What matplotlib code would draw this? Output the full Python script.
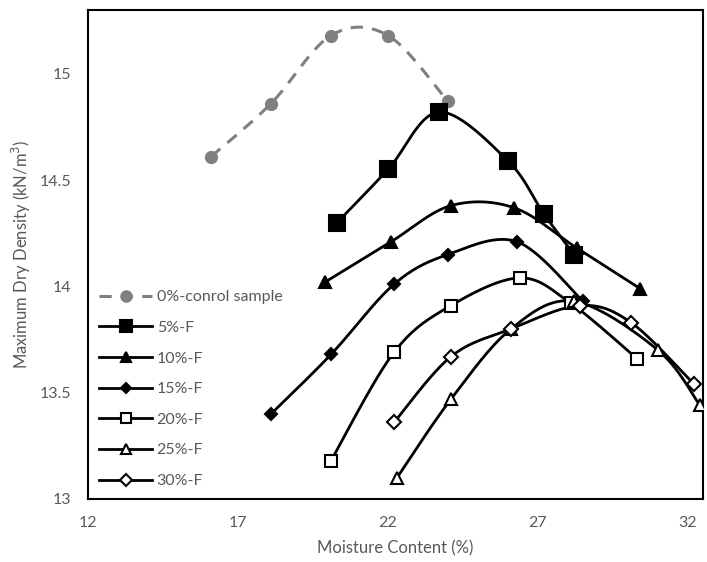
import numpy as np
import matplotlib.pyplot as plt

plt.rcParams['font.family'] = ['Lato', 'DejaVu Sans']

# moisture content (%) and max dry density (kN/m3)
x_ctrl = [16.1, 18.1, 20.1, 22.0, 24.0]
y_ctrl = [14.61, 14.86, 15.18, 15.18, 14.87]

x_5 = [20.3, 22.0, 23.7, 26.0, 27.2, 28.2]
y_5 = [14.30, 14.55, 14.82, 14.59, 14.34, 14.15]

x_10 = [19.9, 22.1, 24.1, 26.2, 28.3, 30.4]
y_10 = [14.02, 14.21, 14.38, 14.37, 14.18, 13.99]

x_15 = [18.1, 20.1, 22.2, 24.0, 26.3, 28.5]
y_15 = [13.40, 13.68, 14.01, 14.15, 14.21, 13.93]

x_20 = [20.1, 22.2, 24.1, 26.4, 28.1, 30.3]
y_20 = [13.18, 13.69, 13.91, 14.04, 13.92, 13.66]

x_25 = [22.3, 24.1, 26.1, 28.2, 31.0, 32.4]
y_25 = [13.10, 13.47, 13.80, 13.93, 13.70, 13.44]

x_30 = [22.2, 24.1, 26.1, 28.4, 30.1, 32.2]
y_30 = [13.36, 13.67, 13.80, 13.91, 13.83, 13.54]


def smooth(xs, ys, n=30):
    # excel-like smoothed line: cubic bezier through the points
    xs = np.asarray(xs, float)
    ys = np.asarray(ys, float)
    px, py = [], []
    for i in range(len(xs) - 1):
        x0, y0 = (xs[i - 1], ys[i - 1]) if i > 0 else (xs[i], ys[i])
        x3, y3 = (xs[i + 2], ys[i + 2]) if i + 2 < len(xs) else (xs[i + 1], ys[i + 1])
        c1x = xs[i] + (xs[i + 1] - x0) / 6
        c1y = ys[i] + (ys[i + 1] - y0) / 6
        c2x = xs[i + 1] - (x3 - xs[i]) / 6
        c2y = ys[i + 1] - (y3 - ys[i]) / 6
        t = np.linspace(0, 1, n)
        a, b, c, d = (1 - t) ** 3, 3 * t * (1 - t) ** 2, 3 * t ** 2 * (1 - t), t ** 3
        px.extend(a * xs[i] + b * c1x + c * c2x + d * xs[i + 1])
        py.extend(a * ys[i] + b * c1y + c * c2y + d * ys[i + 1])
    return np.array(px), np.array(py)


fig = plt.figure(figsize=(7.07, 5.62), dpi=100)
ax = fig.add_axes([88 / 707, 1 - 499 / 562, 615 / 707, 489 / 562])

gray = '#808080'
sx, sy = smooth(x_ctrl, y_ctrl)
ax.plot(sx, sy, color=gray, lw=2.2, ls=(0, (4, 3)), zorder=2)
ax.plot(x_ctrl, y_ctrl, 'o', color=gray, ms=8.5, zorder=2)
ax.plot([], [], color=gray, lw=2.2, ls=(0, (4, 3)), marker='o', ms=8,
        label='0%-conrol sample')

series = [
    (x_5, y_5, 's', 'black', 11, '5%-F'),
    (x_10, y_10, '^', 'black', 9, '10%-F'),
    (x_15, y_15, 'D', 'black', 6.5, '15%-F'),
    (x_20, y_20, 's', 'white', 9, '20%-F'),
    (x_25, y_25, '^', 'white', 8, '25%-F'),
    (x_30, y_30, 'D', 'white', 7, '30%-F'),
]
for xs, ys, m, fc, ms, lab in series:
    sx, sy = smooth(xs, ys)
    ax.plot(sx, sy, color='black', lw=2, zorder=3)
    ax.plot(xs, ys, ls='none', marker=m, mfc=fc, mec='black', mew=1.5,
            ms=ms, zorder=4)
    ax.plot([], [], color='black', lw=2, marker=m, mfc=fc, mec='black',
            mew=1.5, ms=ms * 0.85, label=lab)

ax.set_xlim(12, 32.5)
ax.set_ylim(13, 15.3)
ax.set_xticks([12, 17, 22, 27, 32])
ax.set_yticks([13, 13.5, 14, 14.5, 15])
ax.set_yticklabels(['13', '13.5', '14', '14.5', '15'])
ax.tick_params(length=0, labelsize=11.5, labelcolor='#595959', pad=12)
for s in ax.spines.values():
    s.set_linewidth(1.5)
    s.set_color('black')

ax.set_xlabel('Moisture Content (%)', fontsize=12, color='#595959', labelpad=8)
ax.set_ylabel('Maximum Dry Density (kN/m$^3$)', fontsize=12, color='#595959',
              labelpad=5)

ax.legend(loc='upper left', bbox_to_anchor=(0.0, 0.45), frameon=False,
          fontsize=11.5, labelcolor='#595959', handlelength=3.3,
          handletextpad=0.3, labelspacing=1.03, borderaxespad=0.3)

fig.savefig('out.png', dpi=100)
